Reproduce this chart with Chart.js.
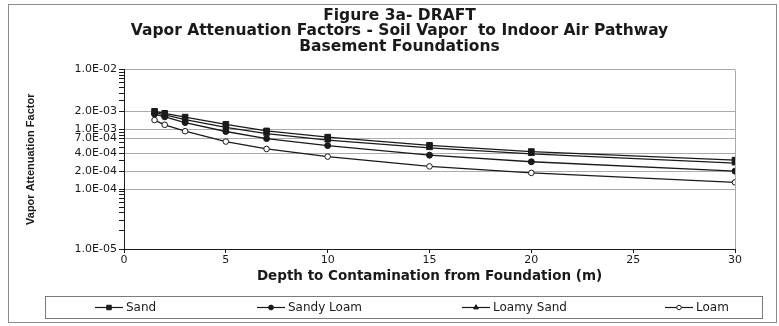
<!DOCTYPE html>
<html>
<head>
<meta charset="utf-8">
<title>Figure 3a- DRAFT</title>
<script src="https://cdn.jsdelivr.net/npm/chart.js@4.4.1/dist/chart.umd.min.js"></script>
<style>
  html, body { margin: 0; padding: 0; background: #fff; }
  #wrap { width: 779px; height: 326px; }
</style>
</head>
<body>
<div id="wrap"><canvas id="vaporChart" width="779" height="326"></canvas></div>
<script>
// depth to contamination (m)
const depths = [1.5, 2, 3, 5, 7, 10, 15, 20, 30];

// vapor attenuation factors
const sand       = [2.0e-3, 1.85e-3, 1.6e-3, 1.21e-3, 9.4e-4, 7.4e-4, 5.4e-4, 4.25e-4, 3.05e-4];
const sandyLoam  = [1.8e-3, 1.62e-3, 1.3e-3, 9.2e-4, 7.0e-4, 5.35e-4, 3.7e-4, 2.87e-4, 2.0e-4];
const loamySand  = [1.9e-3, 1.75e-3, 1.45e-3, 1.08e-3, 8.5e-4, 6.6e-4, 4.9e-4, 3.9e-4, 2.72e-4];
const loam       = [1.43e-3, 1.19e-3, 9.3e-4, 6.25e-4, 4.7e-4, 3.5e-4, 2.4e-4, 1.87e-4, 1.3e-4];

const seriesNames = ['Sand', 'Sandy Loam', 'Loamy Sand', 'Loam'];

// y axis: labelled values and the small unlabelled tick marks
const yMajorTicks = [1e-5, 1e-4, 2e-4, 4e-4, 7e-4, 1e-3, 2e-3, 1e-2];
const yTickLabels = ['1.0E-05', '1.0E-04', '2.0E-04', '4.0E-04', '7.0E-04', '1.0E-03', '2.0E-03', '1.0E-02'];
const yMinorTicks = [2e-5, 3e-5, 4e-5, 5e-5, 6e-5, 7e-5, 8e-5, 9e-5,
                     3e-4, 5e-4, 6e-4, 8e-4, 9e-4,
                     3e-3, 4e-3, 5e-3, 6e-3, 7e-3, 8e-3, 9e-3];
const xTicks = [0, 5, 10, 15, 20, 25, 30];

// the scanned figure uses a wide sans, DejaVu is the closest installed
const FONT = "'DejaVu Sans', Verdana, sans-serif";
const NARROW = "'Liberation Sans Narrow', 'Arial Narrow', 'Liberation Sans', sans-serif";
const INK = '#1a1a1a';
const GRID = '#ababab';

function majorIndex(v) {
    return yMajorTicks.findIndex(t => Math.abs(t - v) / t < 1e-6);
}

function toPoints(values) {
    return depths.map((d, i) => ({ x: d, y: values[i] }));
}

const seriesStyles = [
    { values: sand,      pointStyle: 'rect',     radius: 4,   fill: INK },
    { values: sandyLoam, pointStyle: 'circle',   radius: 3,   fill: INK },
    { values: loamySand, pointStyle: 'triangle', radius: 3.5, fill: INK },
    { values: loam,      pointStyle: 'circle',   radius: 2.8, fill: '#ffffff' }
];

// legend drawn inside its own frame under the axis title
const legendBox = { x: 45, y: 296, w: 717, h: 22 };
const legendSlots = [95, 257, 462, 665];

const frameAndLegend = {
    id: 'frameAndLegend',
    beforeDraw(chart) {
        const ctx = chart.ctx;
        ctx.save();
        ctx.fillStyle = '#ffffff';
        ctx.fillRect(0, 0, chart.width, chart.height);
        ctx.restore();
    },
    afterDraw(chart) {
        const ctx = chart.ctx;
        ctx.save();
        ctx.strokeStyle = '#8c8c8c';
        ctx.lineWidth = 1;
        ctx.strokeRect(8.5, 4.5, 768, 318);

        ctx.strokeStyle = '#7a7a7a';
        ctx.strokeRect(legendBox.x + 0.5, legendBox.y + 0.5, legendBox.w, legendBox.h);

        const cy = legendBox.y + legendBox.h / 2 + 0.5;
        ctx.font = '12px ' + FONT;
        ctx.textBaseline = 'middle';
        chart.data.datasets.forEach((ds, i) => {
            const x0 = legendSlots[i];
            ctx.strokeStyle = INK;
            ctx.lineWidth = 1.2;
            ctx.beginPath();
            ctx.moveTo(x0, cy);
            ctx.lineTo(x0 + 28, cy);
            ctx.stroke();
            ctx.fillStyle = ds.pointBackgroundColor;
            ctx.lineWidth = 1;
            Chart.helpers.drawPoint(ctx, {
                pointStyle: ds.pointStyle,
                radius: ds.pointRadius * 0.8,
                rotation: 0,
                borderWidth: 1
            }, x0 + 14, cy);
            ctx.fillStyle = INK;
            ctx.fillText(ds.label, x0 + 31, cy);
        });
        ctx.restore();
    }
};

const ctx = document.getElementById('vaporChart').getContext('2d');

new Chart(ctx, {
    type: 'line',
    data: {
        datasets: seriesStyles.map((s, i) => ({
            label: seriesNames[i],
            data: toPoints(s.values),
            borderColor: INK,
            borderWidth: 1.3,
            pointStyle: s.pointStyle,
            pointRadius: s.radius,
            pointBackgroundColor: s.fill,
            pointBorderColor: INK,
            pointBorderWidth: 1,
            tension: 0,
            fill: false
        }))
    },
    options: {
        responsive: false,
        animation: false,
        devicePixelRatio: 1,
        layout: {
            padding: { left: 20, right: 0, top: 8, bottom: 32 }
        },
        plugins: {
            legend: { display: false },
            tooltip: { enabled: false },
            title: {
                display: true,
                text: [
                    'Figure 3a- DRAFT',
                    'Vapor Attenuation Factors - Soil Vapor  to Indoor Air Pathway',
                    'Basement Foundations'
                ],
                color: INK,
                font: { family: FONT, size: 15.5, weight: 'bold', lineHeight: 1.0 },
                padding: { top: 0, bottom: 15 }
            }
        },
        scales: {
            x: {
                type: 'linear',
                min: 0,
                max: 30,
                afterBuildTicks: (scale) => {
                    scale.ticks = xTicks.map(v => ({ value: v }));
                },
                afterFit: (scale) => { scale.height = 45; },
                ticks: {
                    color: INK,
                    padding: 1,
                    font: { family: FONT, size: 11 }
                },
                grid: {
                    color: (c) => (c.tick && c.tick.value === 30 ? GRID : 'rgba(0,0,0,0)'),
                    tickColor: INK,
                    tickLength: 4
                },
                border: { color: INK, width: 1 },
                title: {
                    display: true,
                    text: 'Depth to Contamination from Foundation (m)',
                    color: INK,
                    font: { family: FONT, size: 13.5, weight: 'bold' },
                    padding: { top: 4, bottom: 9 }
                }
            },
            y: {
                type: 'logarithmic',
                min: 1e-5,
                max: 1e-2,
                afterBuildTicks: (scale) => {
                    scale.ticks = yMajorTicks.concat(yMinorTicks)
                        .sort((a, b) => a - b)
                        .map(v => ({ value: v }));
                },
                afterFit: (scale) => { scale.width = 104; },
                ticks: {
                    autoSkip: false,
                    color: INK,
                    padding: 2,
                    font: { family: FONT, size: 11 },
                    callback: (value) => {
                        const i = majorIndex(value);
                        return i >= 0 ? yTickLabels[i] : '';
                    }
                },
                grid: {
                    color: (c) => (c.tick && majorIndex(c.tick.value) >= 0 ? GRID : 'rgba(0,0,0,0)'),
                    tickColor: INK,
                    tickLength: 5
                },
                border: { color: INK, width: 1 },
                title: {
                    display: true,
                    text: 'Vapor Attenuation Factor',
                    color: INK,
                    font: { family: NARROW, size: 11, weight: 'bold' },
                    padding: { top: 4 }
                }
            },
            yRight: {
                type: 'linear',
                position: 'right',
                display: true,
                afterFit: (scale) => { scale.width = 44; },
                ticks: { display: false },
                grid: { display: false },
                border: { display: false }
            }
        }
    },
    plugins: [frameAndLegend]
});
</script>
</body>
</html>
